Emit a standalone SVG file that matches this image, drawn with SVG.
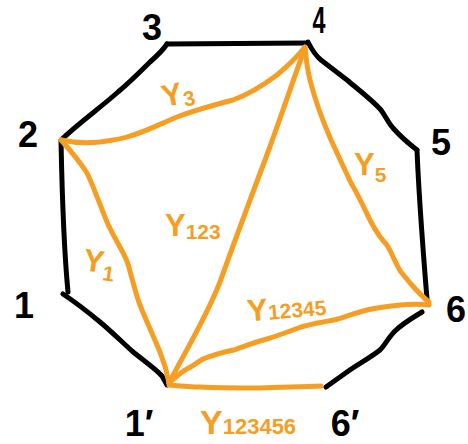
<svg xmlns="http://www.w3.org/2000/svg" width="468" height="444" viewBox="0 0 468 444">
<style>
.bk{fill:none;stroke:#000;stroke-width:5;stroke-linecap:round;stroke-linejoin:round}
.or{fill:none;stroke:#F59E23;stroke-width:5;stroke-linecap:round;stroke-linejoin:round}
.num{font-family:"Liberation Sans",Arial,sans-serif;font-weight:bold;font-size:36px;fill:#000;text-anchor:middle}
.lab{font-family:"Liberation Sans",Arial,sans-serif;font-weight:bold;fill:#F59E23}
.Y{font-size:31px}
.s{font-size:21px}
</style>
<rect width="468" height="444" fill="#fff"/>
<g id="connectors">
<path class="bk" d="M167,44 L307,43"/>
<path class="bk" d="M167,44 C163,50 158,55 150,62 C140,72 130,82 118,92 C100,108 80,122 61,140"/>
<path class="bk" d="M308,42 C312,50 316,56 321,60 C330,67 338,73 347,80 C360,91 372,100 381,110 C386,117 389,124 393,128 C400,136 408,143 417,150"/>
<path class="bk" d="M417,150 C419,200 423,250 427,299"/>
<path class="bk" d="M61,141 C62,190 63,240 68,292"/>
<path class="bk" d="M63,294 C75,302 88,312 100,322 C112,332 122,342 132,351 C144,361 155,368 162,376 L167,385"/>
<path class="bk" d="M422,312 C412,318 402,324 395,331 C388,338 385,345 380,350 C370,358 358,364 347,372 C340,377 333,382 326,387"/>
<path class="or" d="M61,140 C75,143 90,143 100,142 C115,140 125,138 130,136 C145,132 160,124 177,117 C190,112 210,106 233,100 C250,94 265,84 277,75 C290,64 298,56 305,47"/>
<path class="or" d="M61,140 C70,150 80,162 87,173 C93,185 100,205 107,222 C115,240 124,252 128,264 C132,278 136,295 140,305 C145,318 152,333 160,352 C164,362 167,372 169,383"/>
<path class="or" d="M169,383 C185,352 205,320 220,282 C235,240 250,200 265,160 C280,120 293,80 305,48"/>
<path class="or" d="M305,48 C306,58 307,68 310,80 C313,92 318,110 331,140 C338,155 345,170 351,183 C360,198 366,212 371,222 C377,233 382,240 387,245 C393,255 396,265 401,272 C406,278 409,282 411,284 C418,292 424,298 429,302"/>
<path class="or" d="M169,383 C176,377 181,372 187,369 C193,366 198,362 203,359 C213,355 224,352 234,350 C245,346 255,342 267,339 C280,335 290,331 301,327 C312,324 322,322 334,320 C345,317 355,313 367,310 C380,307 390,306 401,305 C412,304 420,304 429,305"/>
<path class="or" d="M169,385 C180,386 190,387 200,387 C220,388 240,388 260,388 C280,387 300,387 321,386"/>
</g>
<g id="n3"><text class="num" x="152" y="40">3</text></g>
<g id="n4"><text class="num" x="319" y="33" textLength="13" lengthAdjust="spacingAndGlyphs">4</text></g>
<g id="n2"><text class="num" x="28" y="147">2</text></g>
<g id="n5"><text class="num" x="441" y="155">5</text></g>
<g id="n1"><text class="num" x="24" y="318">1</text></g>
<g id="n6"><text class="num" x="456" y="322">6</text></g>
<g id="n1p"><text class="num" x="139" y="436">1′</text></g>
<g id="n6p"><text class="num" x="345" y="436">6′</text></g>
<g id="lY3"><text class="lab" x="162" y="104" transform="rotate(-12 178 96)"><tspan class="Y">Y</tspan><tspan class="s" dy="4">3</tspan></text></g>
<g id="lY5"><text class="lab" x="354" y="175"><tspan class="Y">Y</tspan><tspan class="s" dy="7">5</tspan></text></g>
<g id="lY1"><text class="lab" x="83" y="272" transform="rotate(8 96 265)"><tspan class="Y">Y</tspan><tspan class="s" dy="7">1</tspan></text></g>
<g id="lY123"><text class="lab" x="165" y="236"><tspan class="Y">Y</tspan><tspan class="s" dy="3">123</tspan></text></g>
<g id="lY12345"><text class="lab" x="247" y="318" transform="rotate(-5 288 308)"><tspan class="Y">Y</tspan><tspan class="s">12345</tspan></text></g>
<g id="lY123456"><text class="lab" x="200" y="434"><tspan class="Y" style="font-size:34px">Y</tspan><tspan class="s" style="font-size:22px">123456</tspan></text></g>
</svg>
